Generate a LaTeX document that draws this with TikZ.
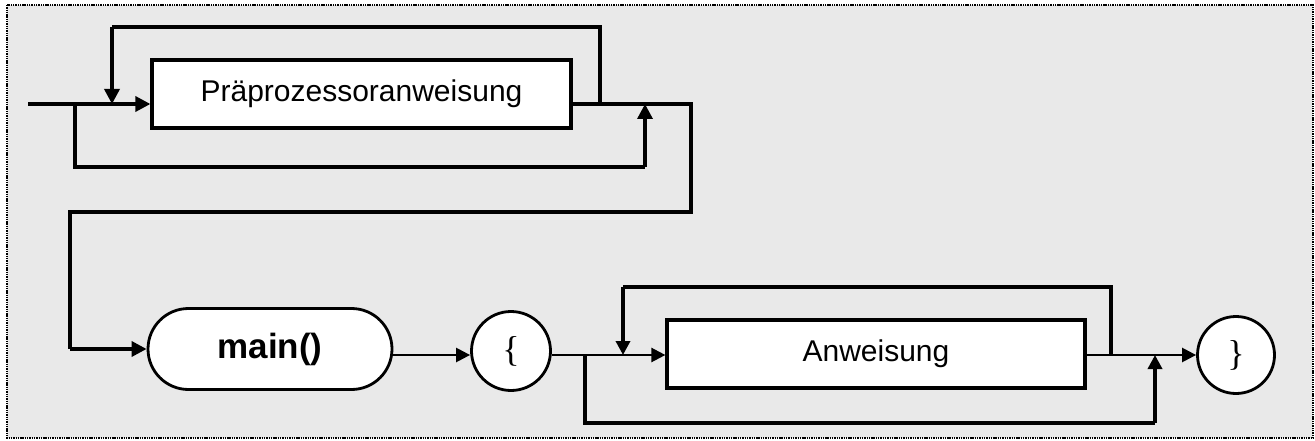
\documentclass[tikz,border=0pt]{standalone}
\usepackage{fontspec}
\setmainfont{Liberation Sans}
\newfontfamily\bracefont{Liberation Serif}
\usetikzlibrary{arrows.meta,shapes.misc}
\definecolor{bggray}{RGB}{233,233,233}
\tikzset{
  frame/.style={draw=black, fill=bggray, line width=2.6pt, dash pattern=on 1.4pt off 0.9pt},
  procbox/.style={draw=black, fill=white, line width=3.2pt, rectangle, inner sep=0pt, font=\fontsize{30}{36}\selectfont},
  termbox/.style={draw=black, fill=white, line width=2.8pt, rounded rectangle, inner sep=0pt, font=\bfseries\fontsize{35}{40}\selectfont},
  termcirc/.style={draw=black, fill=white, line width=2.8pt, circle, inner sep=0pt, font=\bracefont\fontsize{36}{40}\selectfont},
  conn/.style={line width=3.4pt},
  thinconn/.style={line width=2.4pt},
  arr/.style={-{Triangle[length=15pt,width=15pt]}},
  sarr/.style={-{Triangle[length=14pt,width=14pt]}}
}
\begin{document}
\begin{tikzpicture}[x=1pt,y=-1pt]
\useasboundingbox (0,0) rectangle (1315,441);
\fill[white] (0,0) rectangle (1315,441);
\draw[frame] (7,5) rectangle (1313,438);

% nodes
\node[procbox, minimum width=419pt, minimum height=68pt] (pre) at (361.5,94) {Präprozessoranweisung};
\node[termbox, minimum width=244pt, minimum height=81pt] (main) at (270,349) {main()};
\node[termcirc, minimum size=79pt] (lb) at (511,351) {\{};
\node[procbox, minimum width=418pt, minimum height=68pt] (anw) at (876,354) {Anweisung};
\node[termcirc, minimum size=77pt] (rb) at (1236,355) {\}};

% coordinates, top row
\coordinate (start) at (28,104);
\coordinate (s1) at (75,104);
\coordinate (s1b) at (75,167);
\coordinate (j1) at (645,104);
\coordinate (j1b) at (645,167);
\coordinate (l1) at (600,104);
\coordinate (l1t) at (600,27);
\coordinate (m1t) at (112,27);
\coordinate (m1) at (112,104);
\coordinate (c1) at (691,104);
\coordinate (c2) at (691,212);
\coordinate (c3) at (70,212);
\coordinate (c4) at (70,349);

% bottom row
\coordinate (row) at (0,355);
\coordinate (s2) at (585,355);
\coordinate (s2b) at (585,423);
\coordinate (j2) at (1155,355);
\coordinate (j2b) at (1155,423);
\coordinate (l2) at (1111,355);
\coordinate (l2t) at (1111,287);
\coordinate (m2t) at (623,287);
\coordinate (m2) at (623,355);

% top connectors
\draw[conn, arr] (start) -- (pre.west |- start);
\draw[conn] (s1) -- (s1b) -- (j1b);
\draw[conn, arr] (j1b) -- (j1);
\draw[conn] (l1) -- (l1t) -- (m1t);
\draw[conn, arr] (m1t) -- (m1);
\draw[conn] (pre.east |- c1) -- (c1) -- (c2) -- (c3) -- (c4);
\draw[conn, arr] (c4) -- (main.west |- c4);

% bottom connectors
\draw[thinconn, sarr] (main.east |- row) -- (lb.west |- row);
\draw[thinconn] (lb.east |- row) -- (s2);
\draw[thinconn, sarr] (s2) -- (anw.west |- s2);
\draw[conn] (s2) -- (s2b) -- (j2b);
\draw[conn, sarr] (j2b) -- (j2);
\draw[conn] (l2) -- (l2t) -- (m2t);
\draw[conn, sarr] (m2t) -- (m2);
\draw[thinconn, sarr] (anw.east |- row) -- (rb.west |- row);
\end{tikzpicture}
\end{document}
